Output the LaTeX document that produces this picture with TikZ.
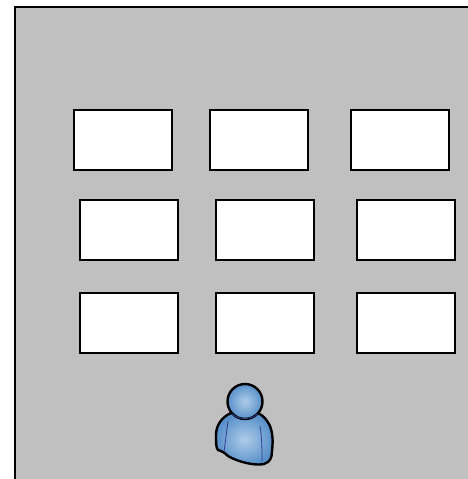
\documentclass[tikz,border=0pt]{standalone}
\tikzset{
  room/.style={fill=roomgray,draw=none},
  wall/.style={draw=black,line width=2pt},
  desk/.style={draw=black,fill=white,line width=2pt,rectangle,minimum width=98pt,minimum height=60pt,inner sep=0pt,outer sep=0pt},
  skin/.style={draw=black,line width=2.4pt,inner color=personlight,outer color=personblue},
  fold/.style={draw=personline,line width=0.8pt}
}
\definecolor{roomgray}{RGB}{192,192,192}
\definecolor{personblue}{RGB}{88,144,202}
\definecolor{personlight}{RGB}{176,204,232}
\definecolor{personline}{RGB}{50,60,140}
\begin{document}
\begin{tikzpicture}[x=1pt,y=-1pt]
\useasboundingbox (0,0) rectangle (468,479);
\fill[room] (14,6) rectangle (468,479);
\draw[wall] (15,479) -- (15,7) -- (468,7);
\node[desk] (d1) at (123,139.5) {};
\node[desk] (d2) at (259,139.5) {};
\node[desk] (d3) at (400,139.5) {};
\node[desk] (d4) at (129,229.5) {};
\node[desk] (d5) at (265,229.5) {};
\node[desk] (d6) at (406,229.5) {};
\node[desk] (d7) at (129,323) {};
\node[desk] (d8) at (265,323) {};
\node[desk] (d9) at (406,323) {};
% person body
\path[skin] (231,413)
  .. controls (222,417) and (216,425) .. (216,435)
  .. controls (216,443) and (216,448) .. (218,450)
  .. controls (222,451) and (225,453) .. (228,456)
  .. controls (238,462) and (255,466) .. (264,464)
  .. controls (270,462) and (272,458) .. (272,451)
  .. controls (273,442) and (273,434) .. (270,426)
  .. controls (267,420) and (264,416) .. (258,413)
  -- cycle;
\draw[fold] (228,421) -- (224,452);
\draw[fold] (260,426) .. controls (262,438) and (262,450) .. (262,461);
% head
\path[skin] (245,401.5) circle[radius=17.5];
\draw[fold] (232,414) .. controls (239,420) and (251,420) .. (258,414);
\end{tikzpicture}
\end{document}
